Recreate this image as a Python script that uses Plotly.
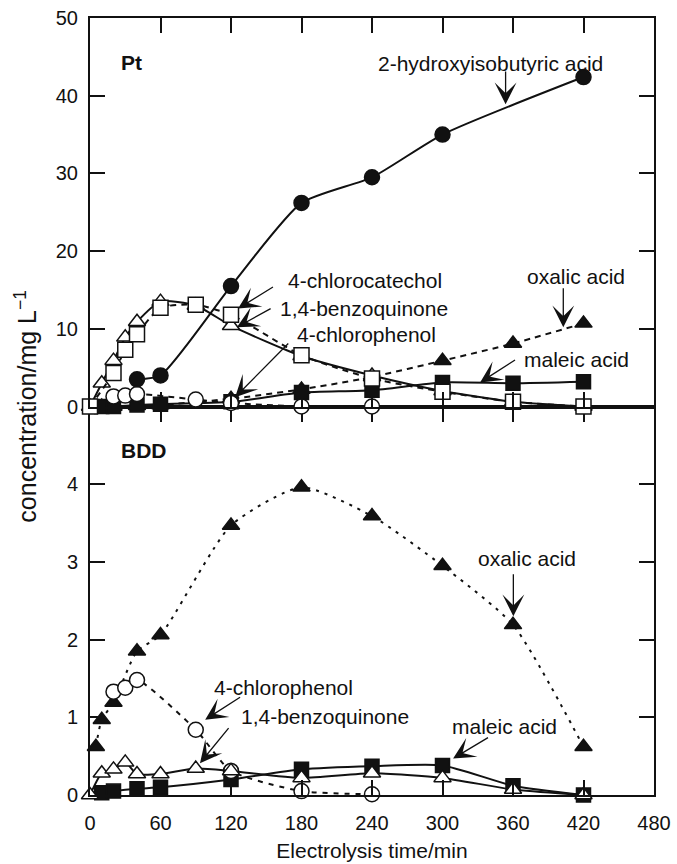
import plotly.graph_objects as go

# ---------------- Pt anode ----------------
pt_hiba_t = [40, 60, 120, 180, 240, 300, 420]
pt_hiba = [3.5, 4.0, 15.5, 26.2, 29.5, 35.0, 42.4]

pt_bq_t = [0, 10, 20, 30, 40, 60, 90, 120, 180, 240, 300, 360, 420]
pt_bq = [0.0, 3.0, 5.9, 8.9, 10.9, 13.5, 13.0, 10.4, 6.5, 4.0, 2.0, 0.6, 0.0]

pt_ccat_t = [0, 20, 30, 40, 60, 90, 120, 180, 240, 300, 360, 420]
pt_ccat = [0.0, 4.3, 7.3, 9.3, 12.7, 13.1, 11.8, 6.6, 3.6, 1.9, 0.6, 0.0]

pt_cp_t = [20, 30, 40, 90, 120, 180, 240]
pt_cp = [1.3, 1.4, 1.6, 0.9, 0.45, 0.0, 0.0]

pt_mal_t = [10, 20, 40, 60, 120, 180, 240, 300, 360, 420]
pt_mal = [0.0, 0.0, 0.2, 0.3, 0.6, 1.8, 2.1, 3.1, 3.0, 3.2]

pt_ox_t = [10, 20, 40, 60, 120, 180, 240, 300, 360, 420]
pt_ox = [0.0, 0.0, 0.1, 0.2, 1.0, 2.2, 3.8, 5.9, 8.1, 10.7]

# ---------------- BDD anode ----------------
bdd_ox_t = [5, 10, 20, 40, 60, 120, 180, 240, 300, 360, 420]
bdd_ox = [0.62, 0.97, 1.19, 1.85, 2.06, 3.47, 3.96, 3.59, 2.95, 2.19, 0.62]

bdd_cp_t = [20, 30, 40, 90, 120, 180, 240]
bdd_cp = [1.33, 1.38, 1.48, 0.84, 0.31, 0.05, 0.01]

bdd_bq_t = [0, 10, 20, 30, 40, 60, 90, 120, 180, 240, 300, 360, 420]
bdd_bq = [0.0, 0.28, 0.33, 0.42, 0.27, 0.27, 0.34, 0.31, 0.22, 0.28, 0.22, 0.07, 0.0]

bdd_mal_t = [10, 20, 40, 60, 120, 180, 240, 300, 360, 420]
bdd_mal = [0.03, 0.05, 0.08, 0.10, 0.20, 0.33, 0.37, 0.38, 0.12, 0.0]

x_ticks = [0, 60, 120, 180, 240, 300, 360, 420, 480]
pt_ticks = [0, 10, 20, 30, 40, 50]
bdd_ticks = [0, 1, 2, 3, 4]

FONT = "Liberation Sans, Arial, sans-serif"
BLACK = "#111111"
TXT = 21

fig = go.Figure()


def series(t, y, symbol, filled, dash, yaxis, size=14):
    fig.add_trace(go.Scatter(
        x=t, y=y, mode="lines+markers", xaxis="x" if yaxis == "y" else "x2", yaxis=yaxis,
        line=dict(color=BLACK, width=2, dash=dash, shape="spline", smoothing=0.6),
        marker=dict(symbol=symbol, size=size,
                    color=BLACK if filled else "white",
                    line=dict(color=BLACK, width=1.5)),
        cliponaxis=False, showlegend=False, hoverinfo="skip"))


# Pt panel (upper)
series(pt_ox_t, pt_ox, "triangle-up", True, "6px,5px", "y2", 15)
series(pt_mal_t, pt_mal, "square", True, "solid", "y2", 14)
series(pt_cp_t, pt_cp, "circle", False, "6px,5px", "y2", 15)
series(pt_bq_t, pt_bq, "triangle-up", False, "solid", "y2", 15)
series(pt_ccat_t, pt_ccat, "square", False, "6px,5px", "y2", 15)
series(pt_hiba_t, pt_hiba, "circle", True, "solid", "y2", 15)

# BDD panel (lower)
series(bdd_mal_t, bdd_mal, "square", True, "solid", "y", 14)
series(bdd_ox_t, bdd_ox, "triangle-up", True, "3px,6px", "y", 15)
series(bdd_cp_t, bdd_cp, "circle", False, "5px,6px", "y", 15)
series(bdd_bq_t, bdd_bq, "triangle-up", False, "solid", "y", 15)

axis_common = dict(showline=True, linecolor=BLACK, linewidth=2, mirror="ticks",
                   ticks="inside", ticklen=15, tickwidth=2, tickcolor=BLACK,
                   showgrid=False, zeroline=False, automargin=False,
                   tickfont=dict(family=FONT, size=20, color=BLACK))

fig.update_layout(
    width=677, height=864,
    margin=dict(l=90, r=23, t=18, b=69),
    paper_bgcolor="white", plot_bgcolor="white",
    xaxis=dict(range=[0, 480], tickvals=x_ticks, anchor="y", ticklabelstandoff=9,
               title=dict(text="Electrolysis time/min",
                          font=dict(family=FONT, size=TXT, color=BLACK), standoff=10),
               **axis_common),
    xaxis2=dict(range=[0, 480], tickvals=x_ticks, anchor="y2", matches="x",
                showticklabels=False, **axis_common),
    yaxis=dict(range=[0, 5], domain=[0, 0.5], tickvals=bdd_ticks, anchor="x",
               ticklabelstandoff=6, **axis_common),
    yaxis2=dict(range=[0, 50], domain=[0.5, 1], tickvals=pt_ticks, anchor="x2",
                ticklabelstandoff=6, **axis_common),
)

# Y axis title spanning both panels
fig.add_annotation(xref="paper", yref="paper", x=-0.115, y=0.5,
                   xanchor="center", yanchor="middle",
                   text="concentration/mg L<sup>\u22121</sup>", textangle=-90,
                   showarrow=False, font=dict(family=FONT, size=25, color=BLACK))

# Panel labels
fig.add_annotation(xref="x2", yref="y2", x=25, y=44.3, text="<b>Pt</b>", xanchor="left",
                   showarrow=False, font=dict(family=FONT, size=TXT, color=BLACK))
fig.add_annotation(xref="x", yref="y", x=25, y=4.43, text="<b>BDD</b>", xanchor="left",
                   showarrow=False, font=dict(family=FONT, size=TXT, color=BLACK))

ARROW = dict(showarrow=True, arrowhead=3, arrowsize=2.8, arrowwidth=1.3,
             arrowcolor=BLACK, text="", standoff=0)


def label(xr, yr, tx, ty, text):
    fig.add_annotation(xref=xr, yref=yr, x=tx, y=ty, text=text, showarrow=False,
                       font=dict(family=FONT, size=TXT, color=BLACK))


def arrow(xr, yr, hx, hy, tx, ty):
    fig.add_annotation(xref=xr, yref=yr, axref=xr, ayref=yr,
                       x=hx, y=hy, ax=tx, ay=ty, **ARROW)


# Pt labels
label("x2", "y2", 341, 44.2, "2-hydroxyisobutyric acid")
arrow("x2", "y2", 353.7, 38.9, 353.7, 43.3)
label("x2", "y2", 234, 16.2, "4-chlorocatechol")
arrow("x2", "y2", 126, 12.6, 157, 15.5)
label("x2", "y2", 233, 12.6, "1,4-benzoquinone")
arrow("x2", "y2", 125, 10.2, 155, 12.7)
label("x2", "y2", 235, 9.3, "4-chlorophenol")
arrow("x2", "y2", 123.5, 1.2, 170, 8.3)
label("x2", "y2", 413.5, 16.7, "oxalic acid")
arrow("x2", "y2", 402.8, 10.2, 402.8, 15.4)
label("x2", "y2", 414, 6.1, "maleic acid")
arrow("x2", "y2", 332, 3.1, 363, 6.1)

# BDD labels
label("x", "y", 371.6, 3.05, "oxalic acid")
arrow("x", "y", 360.3, 2.3, 360.3, 2.86)
label("x", "y", 164.5, 1.38, "4-chlorophenol")
arrow("x", "y", 98, 0.97, 129, 1.27)
label("x", "y", 200, 1.01, "1,4-benzoquinone")
arrow("x", "y", 93.6, 0.41, 119, 0.88)
label("x", "y", 353, 0.88, "maleic acid")
arrow("x", "y", 309, 0.47, 340, 0.75)

fig.write_html("out.html")
